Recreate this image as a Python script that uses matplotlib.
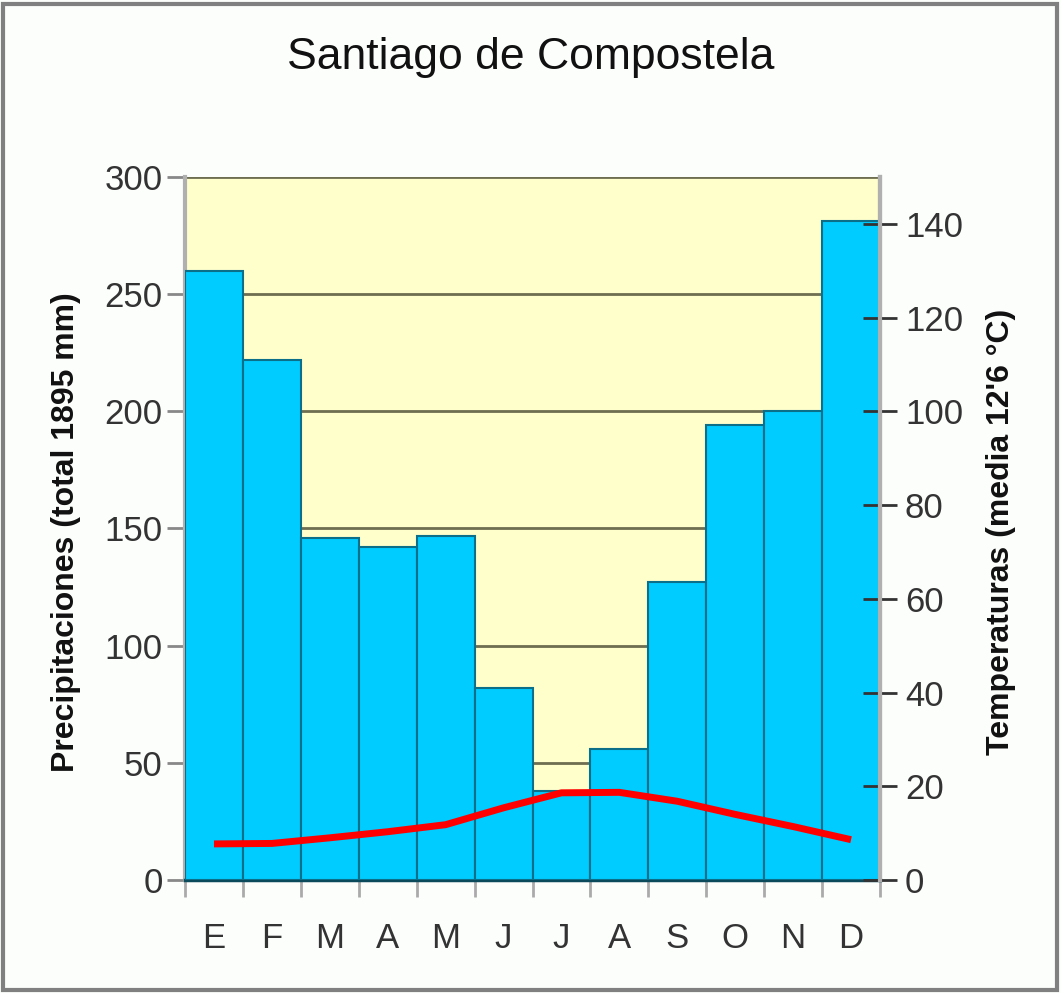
import numpy as np
import matplotlib
matplotlib.use("Agg")
import matplotlib.pyplot as plt
from matplotlib.patches import Rectangle

plt.rcParams['font.family'] = ['Liberation Sans', 'DejaVu Sans']

months = ['E', 'F', 'M', 'A', 'M', 'J', 'J', 'A', 'S', 'O', 'N', 'D']
precip = [260, 222, 146, 142, 147, 82, 38, 56, 127, 194, 200, 281]
temp = [7.7, 7.8, 9.0, 10.3, 11.8, 15.4, 18.6, 18.7, 16.8, 14.0, 11.4, 8.6]

fig = plt.figure(figsize=(10.61, 9.93), dpi=100, facecolor='#fcfefc')
ax = fig.add_axes([0.1744, 0.1138, 0.6550, 0.7080])
ax.set_facecolor('#ffffcc')

x = np.arange(len(months))
ax.bar(x, precip, width=1.0, color='#00ccff', edgecolor='#0b6f8a',
       linewidth=1.5, zorder=3)
ax.set_xlim(-0.5, len(months) - 0.5)
ax.set_ylim(0, 300)
ax.set_yticks(range(0, 301, 50))
ax.yaxis.grid(True, color='#6e6e50', linewidth=2, zorder=1)
ax.set_axisbelow(True)

# ticks between bars, labels at bar centres
ax.set_xticks(np.arange(-0.5, len(months), 1.0))
ax.set_xticklabels([])
ax.set_xticks(x, minor=True)
ax.set_xticklabels(months, minor=True)
ax.tick_params(axis='x', which='major', length=12, width=2, color='#aaaaaa')
ax.tick_params(axis='x', which='minor', length=0, pad=30,
               labelsize=25, labelcolor='#333333')
ax.tick_params(axis='y', length=13, width=2, color='#888888',
               labelsize=25, labelcolor='#333333', pad=3)

ax.spines['top'].set_visible(False)
ax.spines['left'].set_color('#b0b0b0')
ax.spines['left'].set_linewidth(3)
ax.spines['right'].set_color('#b0b0b0')
ax.spines['right'].set_linewidth(3)
ax.spines['bottom'].set_color('#0b4a5a')
ax.spines['bottom'].set_linewidth(2.5)

ax2 = ax.twinx()
ax2.set_ylim(0, 150)
ax2.set_yticks(range(0, 141, 20))
ax2.plot(x, temp, color='#ff0000', linewidth=5, solid_capstyle='butt', zorder=5)
ax2.tick_params(axis='y', direction='inout', length=24, width=2, color='#333333',
                labelsize=25, labelcolor='#333333', pad=6)
for s in ['top', 'left', 'bottom']:
    ax2.spines[s].set_visible(False)
ax2.spines['right'].set_color('#b0b0b0')
ax2.spines['right'].set_linewidth(3)

fig.text(0.5, 0.942, 'Santiago de Compostela', ha='center', va='center',
         fontsize=32, color='#111111')
fig.text(0.062, 0.464, 'Precipitaciones (total 1895 mm)', rotation=90,
         ha='center', va='center', fontsize=23, fontweight='bold', color='#111111')
fig.text(0.943, 0.464, "Temperaturas (media 12'6 °C)", rotation=90,
         ha='center', va='center', fontsize=23, fontweight='bold', color='#111111')

fig.patches.append(Rectangle((0.003, 0.003), 0.993, 0.993, transform=fig.transFigure,
                             fill=False, edgecolor='#808080', linewidth=3))

fig.savefig('out.png', dpi=100, facecolor=fig.get_facecolor())
